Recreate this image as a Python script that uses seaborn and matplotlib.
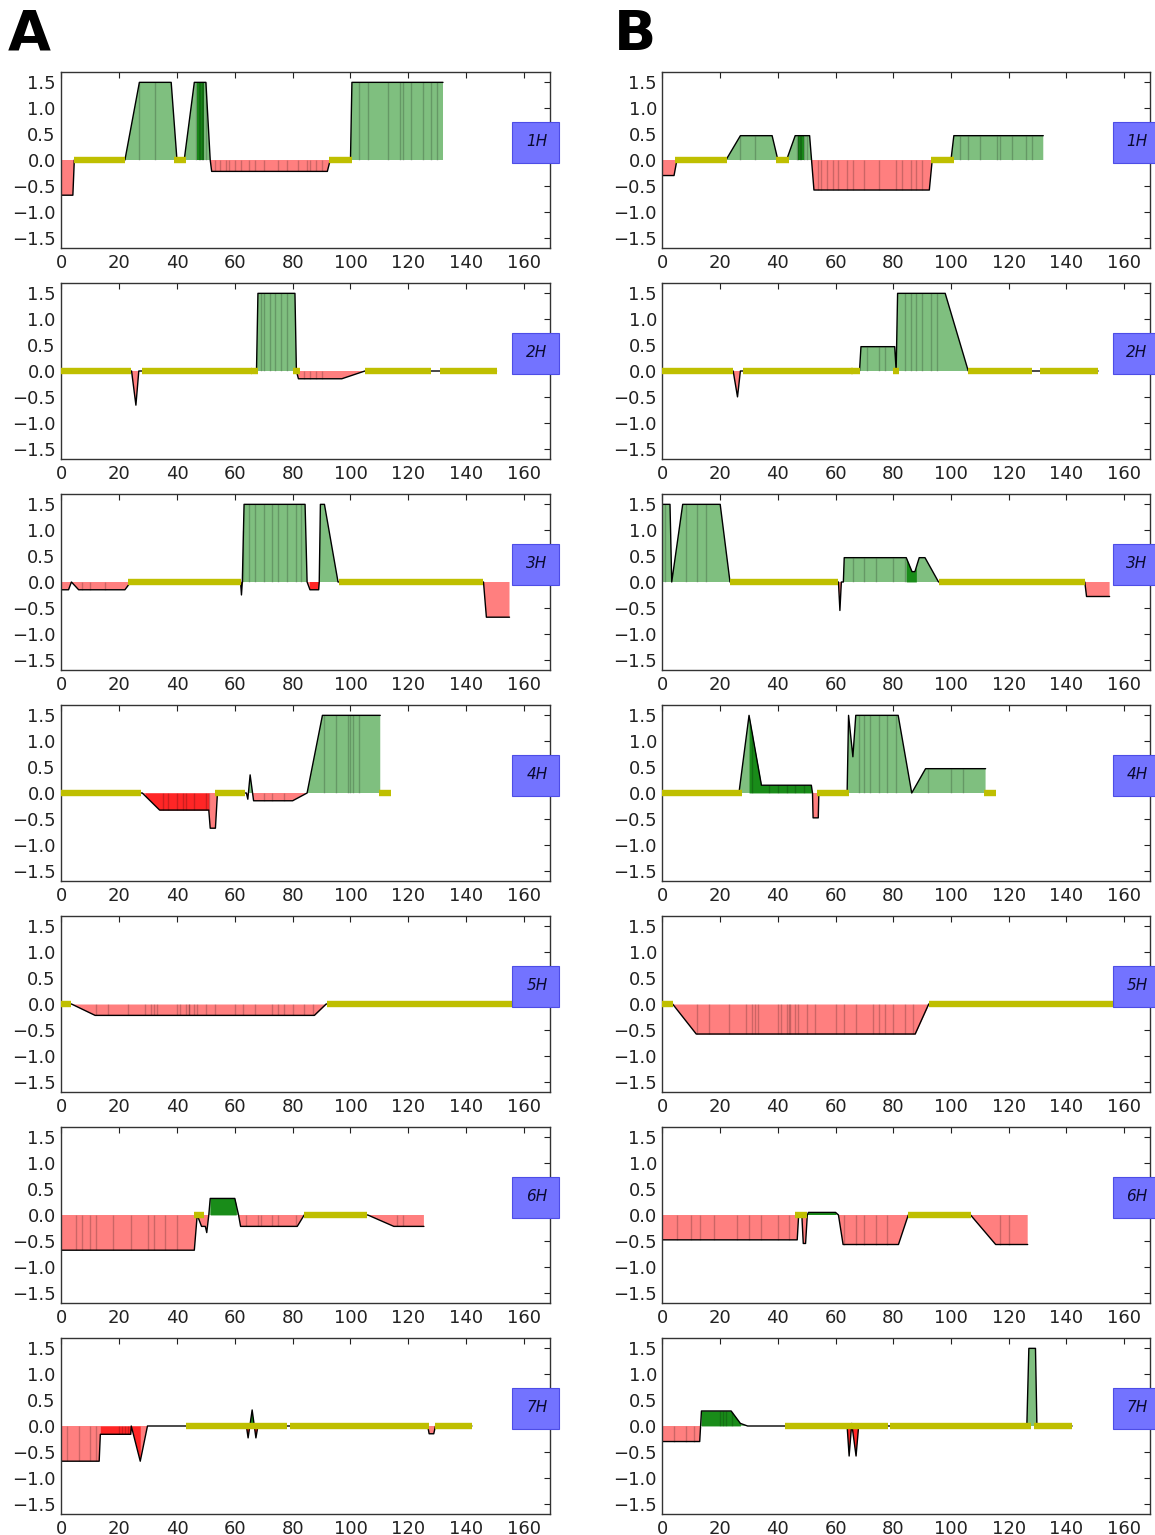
import numpy as np
import matplotlib
matplotlib.use("Agg")
import matplotlib.pyplot as plt
from matplotlib.patches import Rectangle
import seaborn as sns

sns.set_style("white")
plt.rcParams['font.family'] = ['DejaVu Sans']

# ---------------- data ----------------
X_A1 = [0, 4, 4.5, 22, 27, 38, 40, 42.5, 46, 50, 51.5, 52, 92, 93, 100, 100.5, 132]
Y_A1 = [-0.68, -0.68, 0, 0, 1.5, 1.5, 0, 0, 1.5, 1.5, 0, -0.22, -0.22, 0, 0, 1.5, 1.5]
LOOPS_A1 = [(4.5, 22), (39, 43), (92.5, 100.5)]
DARK_A1 = [(47, 49.5)]
STRIPES_A1 = [27, 32.5, 46.5, 47.5, 48, 48.5, 49, 50, 53, 55, 57, 58, 60, 62, 65, 67, 70, 75, 78,
              82, 85, 86, 88, 90, 103, 106, 113, 117, 118, 121, 125, 128, 130]

X_B1 = [0, 4, 5, 22, 27, 38, 40, 43, 46, 51, 52.5, 92.5, 93.5, 100, 101, 132]
Y_B1 = [-0.3, -0.3, 0, 0, 0.47, 0.47, 0, 0, 0.47, 0.47, -0.58, -0.58, 0, 0, 0.47, 0.47]
LOOPS_B1 = [(4.5, 22.5), (39.5, 44), (93, 101)]
DARK_B1 = [(47, 49)]
STRIPES_B1 = [27, 32, 46.5, 47, 47.5, 48, 49, 50, 54, 55, 57, 59, 61, 64, 66, 70, 75, 81, 83, 86,
              88, 90, 103, 106, 110, 116, 117, 121, 126, 128]

X_A2 = [0, 24.3, 25.8, 26.8, 67.5, 68, 80.8, 81.3, 82, 97, 105, 150.5]
Y_A2 = [0, 0, -0.66, 0, 0, 1.5, 1.5, 0, -0.15, -0.15, 0, 0]
LOOPS_A2 = [(0, 24), (28, 66), (65.5, 68), (80, 82.5), (105, 128), (131, 150.5)]
DARK_A2 = []
STRIPES_A2 = [69, 70, 72, 74, 76, 78, 84, 86, 88, 90]

X_B2 = [0, 24.5, 26, 27, 68.3, 68.8, 80.5, 81, 81.5, 98, 106, 151]
Y_B2 = [0, 0, -0.5, 0, 0, 0.47, 0.47, 0, 1.5, 1.5, 0, 0]
LOOPS_B2 = [(0, 24.5), (28, 66), (65.5, 68.5), (80, 82), (106, 128), (131, 151)]
DARK_B2 = []
STRIPES_B2 = [71, 75, 77, 84, 86, 88, 90, 93, 95]

X_A3 = [0, 2.5, 3.5, 6, 22, 24, 62, 62.3, 62.6, 63.2, 84.3, 85, 86, 89, 89.2, 89.6, 91, 95.7, 146, 147, 155]
Y_A3 = [-0.15, -0.15, 0, -0.15, -0.15, 0, 0, -0.25, 0, 1.5, 1.5, 0, -0.15, -0.15, 0, 1.5, 1.5, 0, 0, -0.68, -0.68]
LOOPS_A3 = [(23, 62), (96, 146)]
DARK_A3 = [(86, 89)]
STRIPES_A3 = [7, 10, 15, 63, 65, 67, 70, 73, 75, 78, 81, 83]

X_B3 = [0, 2.6, 3.2, 7, 20, 23.4, 61, 61.5, 62, 62.7, 63, 84.5, 86.5, 87.5, 89, 91, 95.7, 146.4, 147, 155]
Y_B3 = [1.5, 1.5, 0, 1.5, 1.5, 0, 0, -0.55, 0, 0, 0.47, 0.47, 0.2, 0.2, 0.47, 0.47, 0, 0, -0.28, -0.28]
LOOPS_B3 = [(23.4, 61), (95.7, 146.4)]
DARK_B3 = [(84.5, 88)]
STRIPES_B3 = [1, 8, 12, 15, 66, 70, 74, 80, 84]

X_A4 = [0, 28, 34, 51, 51.5, 53.3, 54, 64, 64.5, 65.3, 66.5, 80, 85, 90.3, 110.3]
Y_A4 = [0, 0, -0.33, -0.33, -0.68, -0.68, 0, 0, -0.12, 0.35, -0.15, -0.15, 0, 1.5, 1.5]
LOOPS_A4 = [(0, 27.5), (53, 63.5), (110, 114)]
DARK_A4 = [(29, 51)]
STRIPES_A4 = [35, 37, 40, 42, 43, 46, 50, 51, 70, 73, 77, 91, 95, 99, 100, 101, 103]

X_B4 = [0, 26.5, 30, 34.3, 51.6, 52, 52.2, 54, 54.2, 64, 64.5, 66, 67, 81.7, 86.4, 91.2, 112]
Y_B4 = [0, 0, 1.5, 0.15, 0.15, 0, -0.48, -0.48, 0, 0, 1.5, 0.7, 1.5, 1.5, 0, 0.47, 0.47]
LOOPS_B4 = [(0, 27.5), (53.7, 64.6), (111.3, 115.6)]
DARK_B4 = [(30, 51.6)]
STRIPES_B4 = [31, 37, 40, 43, 46, 49, 68, 70, 72, 75, 78, 81, 92, 100, 104]

X_A5 = [0, 3.5, 11.7, 87.5, 91.6, 169]
Y_A5 = [0, 0, -0.22, -0.22, 0, 0]
LOOPS_A5 = [(0, 3.5), (92, 169)]
DARK_A5 = []
STRIPES_A5 = [12, 16, 23, 29, 31, 32, 33, 40, 41, 43, 44, 44.3, 46, 47, 50, 53, 60, 63, 67, 73, 75,
              77, 80, 84, 87]

X_B5 = [0, 3.5, 11.7, 87.6, 92.3, 169]
Y_B5 = [0, 0, -0.58, -0.58, 0, 0]
LOOPS_B5 = [(0, 3.5), (92.3, 169)]
DARK_B5 = []
STRIPES_B5 = [12, 16, 23, 29, 31, 32, 33, 40, 41, 43, 44, 44.3, 46, 47, 50, 53, 60, 63, 67, 73, 75,
              77, 80, 84, 87]

X_A6 = [0, 46, 47, 48.5, 49.8, 50.3, 51, 51.5, 60, 61.3, 62, 81.6, 84, 106, 115, 125.4]
Y_A6 = [-0.68, -0.68, 0, -0.22, -0.22, -0.34, 0, 0.32, 0.32, 0, -0.22, -0.22, 0, 0, -0.22, -0.22]
LOOPS_A6 = [(46, 49.4), (84, 105.8)]
DARK_A6 = [(51.5, 60.5)]
STRIPES_A6 = [5, 7, 10, 12, 18, 24, 30, 32, 36, 40, 64, 68, 69, 73, 75, 81, 116, 118]

X_B6 = [0, 46.7, 47.2, 48.3, 48.8, 49.6, 50.2, 50.6, 60, 61, 62.6, 81.8, 85.2, 106.8, 115.5, 126.6]
Y_B6 = [-0.48, -0.48, 0, 0, -0.55, -0.55, 0, 0.05, 0.05, 0, -0.57, -0.57, 0, 0, -0.57, -0.57]
LOOPS_B6 = [(46, 50), (85.2, 106.8)]
DARK_B6 = [(50.6, 60)]
STRIPES_B6 = [5, 10, 13, 18, 26, 30, 34, 40, 44, 63, 67, 70, 74, 78, 117, 120]

X_A7 = [0, 13.1, 13.5, 24, 24.2, 27.3, 29.8, 43, 64, 64.6, 66, 67.3, 68, 126.7, 127.2, 128.8, 129.4, 142]
Y_A7 = [-0.68, -0.68, -0.16, -0.16, 0, -0.68, 0, 0, 0, -0.23, 0.31, -0.23, 0, 0, -0.15, -0.15, 0, 0]
LOOPS_A7 = [(43, 78.2), (79, 127), (129.4, 142)]
DARK_A7 = [(13.5, 27.3), (64, 68)]
STRIPES_A7 = [2, 6, 10, 12, 20, 21, 22, 23]

X_B7 = [0, 12.9, 13.5, 23.8, 27, 29.5, 64, 64.7, 65.6, 67.1, 68, 126.3, 127, 129.3, 129.8, 142]
Y_B7 = [-0.3, -0.3, 0.29, 0.29, 0.05, 0, 0, -0.58, 0.05, -0.58, 0, 0, 1.5, 1.5, 0, 0]
LOOPS_B7 = [(42.6, 78.2), (79, 127.6), (128.8, 142)]
DARK_B7 = [(13.5, 27), (64, 68)]
STRIPES_B7 = [4, 8, 11, 20, 21, 22, 24]

HELIX_LABELS = ["1H", "2H", "3H", "4H", "5H", "6H", "7H"]
COLUMN_LABELS = ["A", "B"]
X_TICKS = [0, 20, 40, 60, 80, 100, 120, 140, 160]
Y_TICKS = [-1.5, -1.0, -0.5, 0.0, 0.5, 1.0, 1.5]

PANELS = [
    [(X_A1, Y_A1, LOOPS_A1, DARK_A1, STRIPES_A1), (X_B1, Y_B1, LOOPS_B1, DARK_B1, STRIPES_B1)],
    [(X_A2, Y_A2, LOOPS_A2, DARK_A2, STRIPES_A2), (X_B2, Y_B2, LOOPS_B2, DARK_B2, STRIPES_B2)],
    [(X_A3, Y_A3, LOOPS_A3, DARK_A3, STRIPES_A3), (X_B3, Y_B3, LOOPS_B3, DARK_B3, STRIPES_B3)],
    [(X_A4, Y_A4, LOOPS_A4, DARK_A4, STRIPES_A4), (X_B4, Y_B4, LOOPS_B4, DARK_B4, STRIPES_B4)],
    [(X_A5, Y_A5, LOOPS_A5, DARK_A5, STRIPES_A5), (X_B5, Y_B5, LOOPS_B5, DARK_B5, STRIPES_B5)],
    [(X_A6, Y_A6, LOOPS_A6, DARK_A6, STRIPES_A6), (X_B6, Y_B6, LOOPS_B6, DARK_B6, STRIPES_B6)],
    [(X_A7, Y_A7, LOOPS_A7, DARK_A7, STRIPES_A7), (X_B7, Y_B7, LOOPS_B7, DARK_B7, STRIPES_B7)],
]

# ---------------- figure ----------------
W, H = 1155, 1535
fig = plt.figure(figsize=(W / 100, H / 100), dpi=100)

col_left = [61.3, 662.5]
col_width = [488.7, 487.5]
row_top0, row_step, row_h = 72, 211, 176

GREEN = (0.0, 0.5, 0.0)
RED = (1.0, 0.0, 0.0)
YELLOW = (0.75, 0.75, 0.0)
BOXBLUE = (0.45, 0.45, 1.0)


def draw_panel(ax, xs, ys, loops, dark, stripes, label):
    xs = np.asarray(xs, float)
    ys = np.asarray(ys, float)
    ax.fill_between(xs, ys, 0, where=ys >= 0, interpolate=True, color=GREEN, alpha=0.5, lw=0)
    ax.fill_between(xs, ys, 0, where=ys <= 0, interpolate=True, color=RED, alpha=0.5, lw=0)
    # darker (overlapping) regions
    for a, b in dark:
        gx = np.unique(np.concatenate([[a, b], xs[(xs > a) & (xs < b)]]))
        gy = np.interp(gx, xs, ys)
        ax.fill_between(gx, gy, 0, where=gy >= 0, interpolate=True, color=GREEN, alpha=0.8, lw=0)
        ax.fill_between(gx, gy, 0, where=gy <= 0, interpolate=True, color=RED, alpha=0.7, lw=0)
    # stripes
    sx = np.asarray(stripes, float)
    sy = np.interp(sx, xs, ys)
    ax.vlines(sx, 0, sy, colors="black", alpha=0.2, lw=1.0)
    sns.lineplot(x=xs, y=ys, ax=ax, color="black", lw=1.0, estimator=None, sort=False)
    for a, b in loops:
        ax.plot([a, b], [0, 0], color=YELLOW, lw=4.6, solid_capstyle="butt", zorder=5)
    ax.add_patch(Rectangle((156, -0.06), 16, 0.80, facecolor=BOXBLUE, edgecolor=(0.3, 0.3, 0.9),
                           lw=0.8, alpha=1.0, clip_on=False, zorder=6))
    ax.text(164.5, 0.35, label, fontsize=11, style="italic", ha="center", va="center",
            color="#0a0a30", zorder=7, clip_on=False)
    ax.set_xlim(0, 169)
    ax.set_ylim(-1.7, 1.7)
    ax.set_xticks(X_TICKS)
    ax.set_yticks(Y_TICKS)
    ax.set_yticklabels([f"{v:.1f}".replace("-", "\u2212") for v in Y_TICKS])
    ax.set_xlabel("")
    ax.set_ylabel("")
    ax.tick_params(direction="in", top=True, right=True, length=4, width=0.8,
                   labelsize=13, pad=4, colors="#222222")
    for s in ax.spines.values():
        s.set_color("#333333")
        s.set_linewidth(1.0)


for r in range(7):
    for c in range(2):
        top = row_top0 + r * row_step
        ax = fig.add_axes([col_left[c] / W, 1 - (top + row_h) / H, col_width[c] / W, row_h / H])
        xs, ys, loops, dark, stripes = PANELS[r][c]
        draw_panel(ax, xs, ys, loops, dark, stripes, HELIX_LABELS[r])

for c, lab in enumerate(COLUMN_LABELS):
    fig.text([8 / W, 614 / W][c], 1 - 8 / H, lab, fontsize=40, fontweight="bold",
             ha="left", va="top", color="black")

fig.savefig("out.png", dpi=100)
